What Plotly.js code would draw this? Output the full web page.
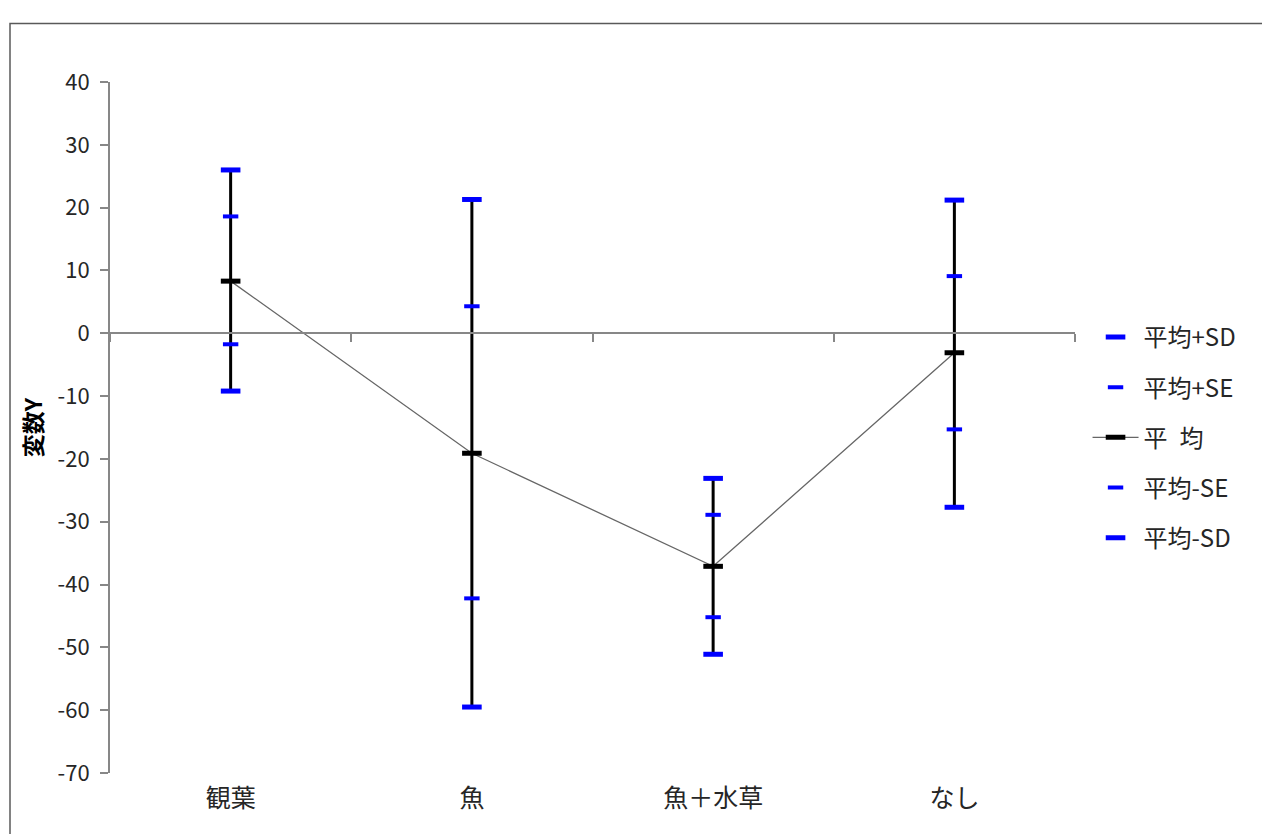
<!DOCTYPE html>
<html>
<head>
<meta charset="utf-8">
<script src="https://cdn.plot.ly/plotly-3.0.1.min.js"></script>
<style>html,body{margin:0;padding:0;background:#fff;}#chart{width:1262px;height:834px;}</style>
</head>
<body>
<div id="chart"></div>
<script>
const categories = ['観葉', '魚', '魚＋水草', 'なし'];
const sdPlus  = [26.0, 21.3, -23.1, 21.2];
const sePlus  = [18.6, 4.3, -28.9, 9.1];
const meanVal = [8.3, -19.1, -37.1, -3.1];
const seMinus = [-1.75, -42.2, -45.2, -15.3];
const sdMinus = [-9.2, -59.5, -51.1, -27.7];
const yTickVals = [40, 30, 20, 10, 0, -10, -20, -30, -40, -50, -60, -70];
const yTickText = ['40', '30', '20', '10', '0', '-10', '-20', '-30', '-40', '-50', '-60', '-70'];
const legendNames = ['平均+SD', '平均+SE', '平\u2002均', '平均-SE', '平均-SD'];

const FONT = '"Noto Sans CJK JP", "Noto Sans", sans-serif';
const BLUE = '#0000ff';

const errUp = sdPlus.map((v, i) => v - meanVal[i]);
const errDn = sdMinus.map((v, i) => meanVal[i] - v);

function capTrace(name, vals, size, lw, rank, xa) {
  return {
    type: 'scatter', mode: 'markers', x: categories, y: vals, name: name,
    xaxis: xa || 'x',
    legendrank: rank, legendgroup: 'g' + rank,
    marker: {symbol: 'line-ew', size: size, color: BLUE, line: {color: BLUE, width: lw}},
    hoverinfo: 'skip'
  };
}

const data = [
  {
    type: 'scatter', mode: 'lines+markers', x: categories, y: meanVal, name: legendNames[2],
    legendrank: 3, legendgroup: 'g3',
    line: {color: '#666666', width: 1.3},
    marker: {symbol: 'line-ew', size: 14, color: '#000', line: {color: '#000', width: 5}},
    error_y: {type: 'data', symmetric: false, array: errUp, arrayminus: errDn, color: '#000', thickness: 3, width: 0},
    hoverinfo: 'skip'
  },
  capTrace(legendNames[0], sdPlus, 14, 5, 1, 'x2'),
  capTrace(legendNames[1], sePlus, 11, 4, 2),
  capTrace(legendNames[3], seMinus, 11, 4, 4),
  capTrace(legendNames[4], sdMinus, 14, 5, 5)
];

const layout = {
  width: 1262, height: 834,
  margin: {l: 110, r: 187, t: 82, b: 61, pad: 0},
  paper_bgcolor: '#fff', plot_bgcolor: '#fff',
  font: {family: FONT, color: '#262626', size: 20},
  showlegend: true,
  legend: {
    x: 1.013, y: 0.663, xanchor: 'left', yanchor: 'top',
    font: {family: FONT, size: 24, color: '#262626'},
    traceorder: 'grouped', tracegroupgap: 16, itemwidth: 46,
    bgcolor: 'rgba(0,0,0,0)'
  },
  xaxis: {
    type: 'category', categoryarray: categories, categoryorder: 'array',
    range: [-0.5, 3.5], showline: false, showgrid: false, zeroline: false,
    ticks: '', tickfont: {family: FONT, size: 25, color: '#262626'},
    ticklabelstandoff: 8, fixedrange: true
  },
  xaxis2: {
    type: 'category', categoryarray: categories, categoryorder: 'array',
    overlaying: 'x', anchor: 'free', position: 70 / 110, side: 'bottom',
    range: [-0.5, 3.5], showline: true, linecolor: '#878787', linewidth: 2,
    ticks: 'outside', tickson: 'boundaries', ticklen: 8, tickwidth: 2, tickcolor: '#878787',
    showticklabels: false, showgrid: false, zeroline: false
  },
  yaxis: {
    range: [-70, 40], tickvals: yTickVals, ticktext: yTickText, showgrid: false,
    zeroline: true, zerolinecolor: '#878787', zerolinewidth: 2,
    showline: true, linecolor: '#878787', linewidth: 2,
    ticks: 'outside', ticklen: 8, tickwidth: 2, tickcolor: '#878787',
    tickfont: {family: FONT, size: 22, color: '#262626'},
    ticklabelstandoff: 6,
    title: {text: '<b>変数Y</b>', font: {family: FONT, size: 23, color: '#000'}, standoff: 8}
  },
  shapes: [{
    type: 'rect', xref: 'paper', yref: 'paper',
    x0: (10 - 110) / 965, x1: 1.3, y0: -0.3, y1: (773 - 23.5) / 691,
    line: {color: '#595959', width: 1.5}, fillcolor: 'rgba(0,0,0,0)', layer: 'below'
  }]
};

Plotly.newPlot('chart', data, layout, {displayModeBar: false, staticPlot: true});
</script>
</body>
</html>
